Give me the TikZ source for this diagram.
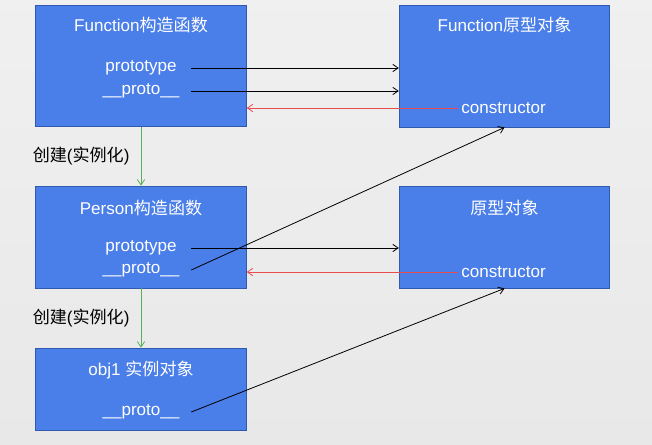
\documentclass[tikz,border=0pt]{standalone}
\usepackage{fontspec}
\setmainfont{Liberation Sans}
\newfontfamily\cjk{Noto Sans CJK SC}
\usetikzlibrary{positioning, arrows.meta}

\definecolor{boxblue}{HTML}{4A7EE8}
\definecolor{boxedge}{HTML}{2F5AAE}
\definecolor{ctorred}{HTML}{E84C4C}
\definecolor{newgreen}{HTML}{5AAE5A}

\begin{document}
\begin{tikzpicture}[
    x=0.75pt, y=-0.75pt,
    >={Straight Barb[length=4pt, width=5.5pt]},
    % Styles for nodes
    box/.style={draw=boxedge, fill=boxblue, rectangle, minimum width=158pt, line width=0.6pt},
    title/.style={text=white, font=\fontsize{12.8}{15}\selectfont, inner sep=0pt},
    item/.style={text=white, font=\fontsize{12.8}{15}\selectfont, inner sep=0pt, minimum width=75pt},
    ctor/.style={text=white, font=\fontsize{12.8}{15}\selectfont, inner sep=2pt},
    link/.style={->, line width=0.6pt, draw=black},
    back/.style={->, line width=0.6pt, draw=ctorred},
    make/.style={->, line width=0.6pt, draw=newgreen},
    makelabel/.style={font=\fontsize{12.8}{15}\selectfont, text=black}
]

    % Background
    \shade[top color=black!6, bottom color=black!9] (0,0) rectangle (652,445);
    \useasboundingbox (0,0) rectangle (652,445);

    % Boxes
    \node (fctor) [box, minimum height=90.75pt] at (141,66) {};
    \node (fproto) [box, minimum height=91.5pt] at (504.5,66) {};
    \node (person) [box, minimum height=76.5pt] at (141,237) {};
    \node (proto) [box, minimum height=76.5pt] at (504.5,237) {};
    \node (obj) [box, minimum height=61.5pt] at (141,389) {};

    % Texts in the boxes
    \node (fctortitle) [title] at (141,25) {Function{\cjk 构造函数}};
    \node (fctorpt) [item] at (141,68) {prototype};
    \node (fctorpr) [item] at (141,91) {\_\_proto\_\_};

    \node (fprototitle) [title] at (504.5,25) {Function{\cjk 原型对象}};
    \node (fprotoctor) [ctor] at (503.5,108) {constructor};

    \node (persontitle) [title] at (141,208) {Person{\cjk 构造函数}};
    \node (personpt) [item] at (141,248) {prototype};
    \node (personpr) [item] at (141,270) {\_\_proto\_\_};

    \node (prototitle) [title] at (504.5,208) {\cjk 原型对象};
    \node (protoctor) [ctor] at (503.5,272) {constructor};

    \node (objtitle) [title] at (141,370) {obj1 {\cjk 实例对象}};
    \node (objpr) [item] at (141,412) {\_\_proto\_\_};

    % Arrows
    \draw [link] (fctorpt.east) -- (fctorpt.east -| fproto.west);
    \draw [link] (fctorpr.east) -- (fctorpr.east -| fproto.west);
    \draw [back] (fprotoctor.west) -- (fprotoctor.west -| fctor.east);

    \draw [link] (personpt.east) -- (personpt.east -| proto.west);
    \draw [link] (personpr.east) -- (fproto.south);
    \draw [back] (protoctor.west) -- (protoctor.west -| person.east);

    \draw [link] (objpr.east) -- (proto.south);

    \draw [make] (fctor.south) -- node (make1) [makelabel, left=5pt] {{\cjk 创建}({\cjk 实例化})} (person.north);
    \draw [make] (person.south) -- node (make2) [makelabel, left=5pt] {{\cjk 创建}({\cjk 实例化})} (obj.north);

\end{tikzpicture}
\end{document}
